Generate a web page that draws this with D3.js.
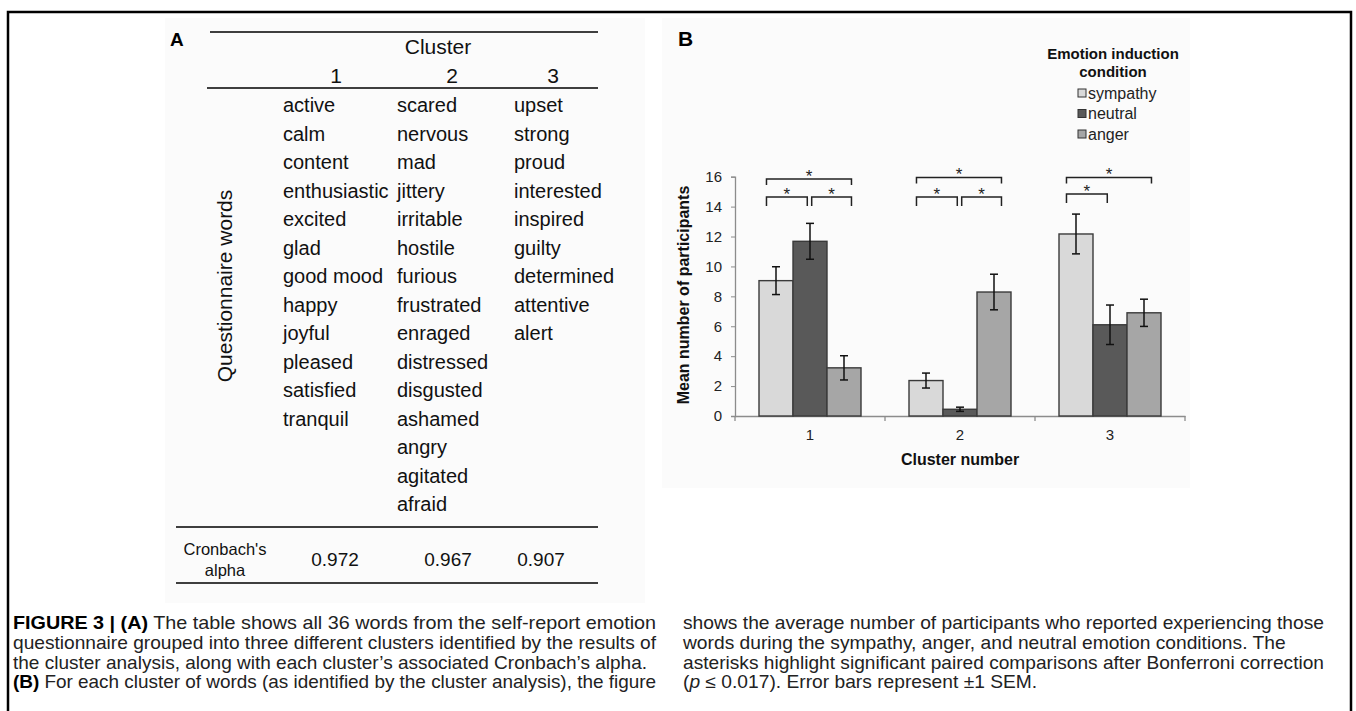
<!DOCTYPE html>
<html><head><meta charset="utf-8">
<script src="https://cdn.jsdelivr.net/npm/d3@7/dist/d3.min.js"></script>
<style>body{margin:0;background:#fff;} svg{display:block;font-family:Arial,"Liberation Sans",sans-serif;}</style>
</head><body><svg id="c" width="1356" height="711"></svg>
<script>
// ---------- data ----------
const clusters = ["1", "2", "3"];
const conditions = ["sympathy", "neutral", "anger"];
const sympathyMean = [9.05, 2.37, 12.17];
const sympathySem  = [0.93, 0.50, 1.33];
const neutralMean  = [11.68, 0.45, 6.10];
const neutralSem   = [1.20, 0.14, 1.32];
const angerMean    = [3.22, 8.29, 6.90];
const angerSem     = [0.81, 1.19, 0.91];
const yTicks = [0, 2, 4, 6, 8, 10, 12, 14, 16];
const comparisons = [
  {cluster: "1", a: "sympathy", b: "neutral", level: 14.65},
  {cluster: "1", a: "neutral",  b: "anger",   level: 14.65},
  {cluster: "1", a: "sympathy", b: "anger",   level: 15.85},
  {cluster: "2", a: "sympathy", b: "neutral", level: 14.65},
  {cluster: "2", a: "neutral",  b: "anger",   level: 14.65},
  {cluster: "2", a: "sympathy", b: "anger",   level: 15.95},
  {cluster: "3", a: "sympathy", b: "neutral", level: 14.85},
  {cluster: "3", a: "sympathy", b: "anger",   level: 15.95}
];
const words1 = ["active","calm","content","enthusiastic","excited","glad","good mood","happy","joyful","pleased","satisfied","tranquil"];
const words2 = ["scared","nervous","mad","jittery","irritable","hostile","furious","frustrated","enraged","distressed","disgusted","ashamed","angry","agitated","afraid"];
const words3 = ["upset","strong","proud","interested","inspired","guilty","determined","attentive","alert"];
const alphas = ["0.972", "0.967", "0.907"];
const captionLeft = [
  [{t:"FIGURE 3 | (A)", b:true}, {t:" The table shows all 36 words from the self-report emotion"}],
  [{t:"questionnaire grouped into three different clusters identified by the results of"}],
  [{t:"the cluster analysis, along with each cluster\u2019s associated Cronbach\u2019s alpha."}],
  [{t:"(B)", b:true}, {t:" For each cluster of words (as identified by the cluster analysis), the figure"}]
];
const captionRight = [
  [{t:"shows the average number of participants who reported experiencing those"}],
  [{t:"words during the sympathy, anger, and neutral emotion conditions. The"}],
  [{t:"asterisks highlight significant paired comparisons after Bonferroni correction"}],
  [{t:"("}, {t:"p", i:true}, {t:" \u2264 0.017). Error bars represent \u00b11 SEM."}]
];

const means = {sympathy: sympathyMean, neutral: neutralMean, anger: angerMean};
const sems = {sympathy: sympathySem, neutral: neutralSem, anger: angerSem};
const colors = {sympathy: "#d9d9d9", neutral: "#595959", anger: "#a6a6a6"};

const svg = d3.select("#c");

// frame
svg.append("path").attr("d", "M8,711 V12 H1351 V711")
  .attr("fill", "none").attr("stroke", "#000").attr("stroke-width", 2.5);

// faint image backgrounds
svg.append("rect").attr("x", 165).attr("y", 18).attr("width", 480).attr("height", 585).attr("fill", "#fbfbfb");
svg.append("rect").attr("x", 662).attr("y", 18).attr("width", 528).attr("height", 470).attr("fill", "#fbfbfb");

// ---------- Panel A: table ----------
const gA = svg.append("g");
gA.append("text").attr("x", 170).attr("y", 46).attr("font-size", 19).attr("font-weight", "bold").text("A");
const rule = (x1, x2, y) => gA.append("line").attr("x1", x1).attr("x2", x2).attr("y1", y).attr("y2", y)
  .attr("stroke", "#000").attr("stroke-width", 1.6);
rule(210, 598, 32);
rule(207, 598, 88);
const tf = 20;
gA.append("text").attr("x", 438).attr("y", 54).attr("font-size", 21).attr("text-anchor", "middle").attr("fill", "#111").text("Cluster");
const colHead = [336, 452, 553];
const colX = [283, 397, 514];
clusters.forEach((c, i) => gA.append("text").attr("x", colHead[i]).attr("y", 83).attr("font-size", 21)
  .attr("text-anchor", "middle").attr("fill", "#111").text(c));
const rowY = i => 105 + 28.5 * i;
[words1, words2, words3].forEach((ws, ci) => {
  gA.selectAll(null).data(ws).enter().append("text")
    .attr("x", colX[ci]).attr("y", (d, i) => rowY(i) + 7)
    .attr("font-size", tf).attr("fill", "#111").text(d => d);
});
gA.append("text").attr("transform", "translate(232,286) rotate(-90)")
  .attr("text-anchor", "middle").attr("font-size", 21).attr("fill", "#111").text("Questionnaire words");
rule(176, 598, 527);
gA.append("text").attr("x", 225).attr("y", 555).attr("font-size", 16.5).attr("text-anchor", "middle").attr("fill", "#111").text("Cronbach's");
gA.append("text").attr("x", 225).attr("y", 576).attr("font-size", 16.5).attr("text-anchor", "middle").attr("fill", "#111").text("alpha");
alphas.forEach((a, i) => gA.append("text").attr("x", [335, 448, 541][i]).attr("y", 566)
  .attr("font-size", 19).attr("text-anchor", "middle").attr("fill", "#111").text(a));
rule(176, 598, 583);

// ---------- Panel B: bar chart ----------
const gB = svg.append("g");
gB.append("text").attr("x", 678).attr("y", 46).attr("font-size", 21).attr("font-weight", "bold").text("B");

const x0 = d3.scaleBand().domain(clusters).range([735, 1185]).padding(0);
const x1 = d3.scaleBand().domain(conditions).range([24, 126]).padding(0);
const y = d3.scaleLinear().domain([0, 16]).range([416, 176.7]);
const bw = x1.bandwidth();

// axes
const yAxis = d3.axisLeft(y).tickValues(yTicks).tickSize(4).tickPadding(9);
const gy = gB.append("g").attr("transform", "translate(735,0)").call(yAxis);
gy.select(".domain").attr("stroke", "#8c8c8c").attr("stroke-width", 1.3);
gy.selectAll(".tick line").attr("stroke", "#8c8c8c");
gy.selectAll(".tick text").attr("font-size", 15).attr("fill", "#222").attr("font-family", "Arial, Liberation Sans, sans-serif");

const xAxis = d3.axisBottom(x0).tickSize(0).tickPadding(13);
const gx = gB.append("g").attr("transform", "translate(0,416)").call(xAxis);
gx.select(".domain").attr("stroke", "#8c8c8c").attr("stroke-width", 1.3);
gx.selectAll(".tick text").attr("font-size", 15).attr("fill", "#222").attr("font-family", "Arial, Liberation Sans, sans-serif");
const bounds = clusters.map(c => x0(c)).concat([x0(clusters[2]) + x0.bandwidth()]);
gB.selectAll(null).data(bounds).enter().append("line")
  .attr("x1", d => d).attr("x2", d => d).attr("y1", 416).attr("y2", 421)
  .attr("stroke", "#8c8c8c").attr("stroke-width", 1.3);

// bars
const barData = [];
clusters.forEach((c, i) => conditions.forEach(k => barData.push({c, k, v: means[k][i], e: sems[k][i]})));
gB.selectAll(".bar").data(barData).enter().append("rect")
  .attr("x", d => x0(d.c) + x1(d.k)).attr("y", d => y(d.v))
  .attr("width", bw).attr("height", d => y(0) - y(d.v))
  .attr("fill", d => colors[d.k]).attr("stroke", "#3a3a3a").attr("stroke-width", 1.4);

// error bars
const eb = gB.selectAll(".eb").data(barData).enter().append("g");
eb.append("line").attr("x1", d => x0(d.c) + x1(d.k) + bw / 2).attr("x2", d => x0(d.c) + x1(d.k) + bw / 2)
  .attr("y1", d => y(d.v + d.e)).attr("y2", d => y(d.v - d.e)).attr("stroke", "#111").attr("stroke-width", 1.5);
[1, -1].forEach(s => eb.append("line")
  .attr("x1", d => x0(d.c) + x1(d.k) + bw / 2 - 4).attr("x2", d => x0(d.c) + x1(d.k) + bw / 2 + 4)
  .attr("y1", d => y(d.v + s * d.e)).attr("y2", d => y(d.v + s * d.e)).attr("stroke", "#111").attr("stroke-width", 1.5));

// significance brackets
const leftOff = {sympathy: 0.22, neutral: 0.55};
const rightOff = {neutral: 0.42, anger: 0.72};
comparisons.forEach(cp => {
  const xa = x0(cp.cluster) + x1(cp.a) + leftOff[cp.a] * bw;
  const xb = x0(cp.cluster) + x1(cp.b) + rightOff[cp.b] * bw;
  const top = y(cp.level);
  const leg = (cp.a === "sympathy" && cp.b === "anger") ? 6 : 9;
  gB.append("path").attr("d", `M${xa},${top + leg} V${top} H${xb} V${top + leg}`)
    .attr("fill", "none").attr("stroke", "#222").attr("stroke-width", 1.5);
  gB.append("text").attr("x", (xa + xb) / 2).attr("y", top + 3).attr("text-anchor", "middle")
    .attr("font-size", 17).attr("fill", "#222").text("*");
});

// axis titles
gB.append("text").attr("x", 960).attr("y", 465).attr("text-anchor", "middle")
  .attr("font-size", 16).attr("font-weight", "bold").attr("fill", "#111").text("Cluster number");
gB.append("text").attr("transform", "translate(689,295) rotate(-90)").attr("text-anchor", "middle")
  .attr("font-size", 16).attr("font-weight", "bold").attr("fill", "#111").text("Mean number of participants");

// legend
const lg = gB.append("g");
lg.append("text").attr("x", 1113).attr("y", 59).attr("text-anchor", "middle").attr("font-size", 15)
  .attr("font-weight", "bold").attr("fill", "#111").text("Emotion induction");
lg.append("text").attr("x", 1113).attr("y", 77).attr("text-anchor", "middle").attr("font-size", 15)
  .attr("font-weight", "bold").attr("fill", "#111").text("condition");
const li = lg.selectAll(".li").data(conditions).enter().append("g")
  .attr("transform", (d, i) => `translate(1078,${93 + i * 20.5})`);
li.append("rect").attr("x", 0).attr("y", -4).attr("width", 8).attr("height", 8)
  .attr("fill", d => colors[d]).attr("stroke", "#333").attr("stroke-width", 1);
li.append("text").attr("x", 10).attr("y", 5.5).attr("font-size", 16).attr("fill", "#222").text(d => d);

// ---------- caption (justified two-column text) ----------
function caption(lines, x, widths) {
  const g = svg.append("g");
  const texts = lines.map((parts, i) => {
    const t = g.append("text").attr("x", 0).attr("y", 629 + i * 19.8)
      .attr("font-size", 18).attr("fill", "#222");
    parts.forEach(p => {
      const s = t.append("tspan").text(p.t);
      if (p.b) s.attr("font-weight", "bold").attr("fill", "#000");
      if (p.i) s.attr("font-style", "italic");
    });
    return t;
  });
  const sx = widths[0] / texts[0].node().getComputedTextLength();
  g.attr("transform", `translate(${x},0) scale(${sx},1)`);
  texts.forEach((t, i) => { if (widths[i]) t.attr("textLength", widths[i] / sx).attr("lengthAdjust", "spacingAndGlyphs"); });
}
caption(captionLeft, 13, [643, 643, 634, 643]);
caption(captionRight, 683, [641, null, 641, null]);
</script></body></html>
